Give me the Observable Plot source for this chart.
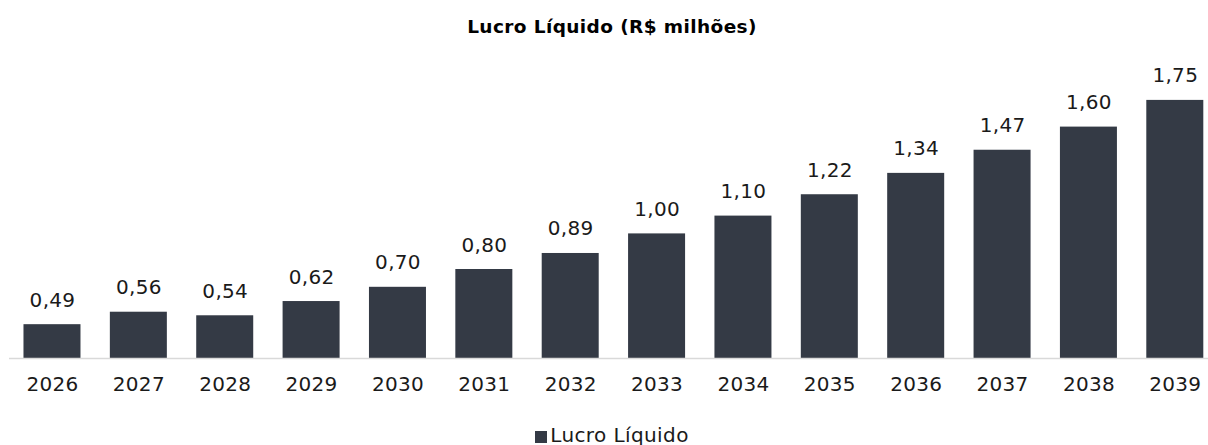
<!DOCTYPE html>
<html>
<head>
<meta charset="utf-8">
<script src="https://cdn.jsdelivr.net/npm/d3@7"></script>
<script src="https://cdn.jsdelivr.net/npm/@observablehq/plot@0.6"></script>
<style>
  html, body { margin: 0; padding: 0; background: #fff; width: 1208px; height: 445px; overflow: hidden; }
  body { font-family: "DejaVu Sans", sans-serif; color: #1a1a1a; }
  #title { height: 54px; line-height: 54px; text-align: center; font-weight: bold; font-size: 18.5px; letter-spacing: 0.4px; color: #000; padding-left: 16px; }
  #legend { height: 42px; line-height: 42px; text-align: center; font-size: 20px; letter-spacing: 0.4px; color: #1a1a1a; padding-left: 16px; }
  #legend .sw { display: inline-block; width: 12px; height: 12px; background: #343a45; margin-right: 3px; vertical-align: -1px; }
  svg { display: block; }
</style>
</head>
<body>
<div id="title">Lucro Líquido (R$ milhões)</div>
<div id="chart"></div>
<div id="legend"><span class="sw"></span>Lucro Líquido</div>
<script>
const years = ["2026","2027","2028","2029","2030","2031","2032","2033","2034","2035","2036","2037","2038","2039"];
const values = [0.49, 0.56, 0.54, 0.62, 0.70, 0.80, 0.89, 1.00, 1.10, 1.22, 1.34, 1.47, 1.60, 1.75];
const labels = ["0,49","0,56","0,54","0,62","0,70","0,80","0,89","1,00","1,10","1,22","1,34","1,47","1,60","1,75"];
const seriesName = "Lucro Líquido";

const data = years.map((y, i) => ({year: y, value: values[i], label: labels[i]}));
const barColor = "#343a45";

const chart = Plot.plot({
  width: 1208,
  height: 360,
  marginLeft: 9,
  marginRight: 0,
  marginTop: 37,
  marginBottom: 56,
  style: { fontFamily: "DejaVu Sans, sans-serif", fontSize: "20px", color: "#1a1a1a", background: "#fff", letterSpacing: "0.3px" },
  x: { domain: years, paddingInner: 0.34, paddingOuter: 0.111, align: 0.755, round: false, label: null },
  y: { domain: [0.3, 1.8], axis: null },
  marks: [
    Plot.barY(data, { x: "year", y1: 0.3, y2: "value", fill: barColor }),
    Plot.ruleY([0.3], { stroke: "#d9d9d9", strokeWidth: 1.5 }),
    Plot.text(data, { x: "year", y: "value", text: "label", lineAnchor: "bottom", dy: -18, fontSize: 20, fill: "#1a1a1a" }),
    Plot.axisX({ tickSize: 0, tickPadding: 18, fontSize: 20, label: null, fill: "#1a1a1a" })
  ]
});
document.getElementById("chart").appendChild(chart);
</script>
</body>
</html>
